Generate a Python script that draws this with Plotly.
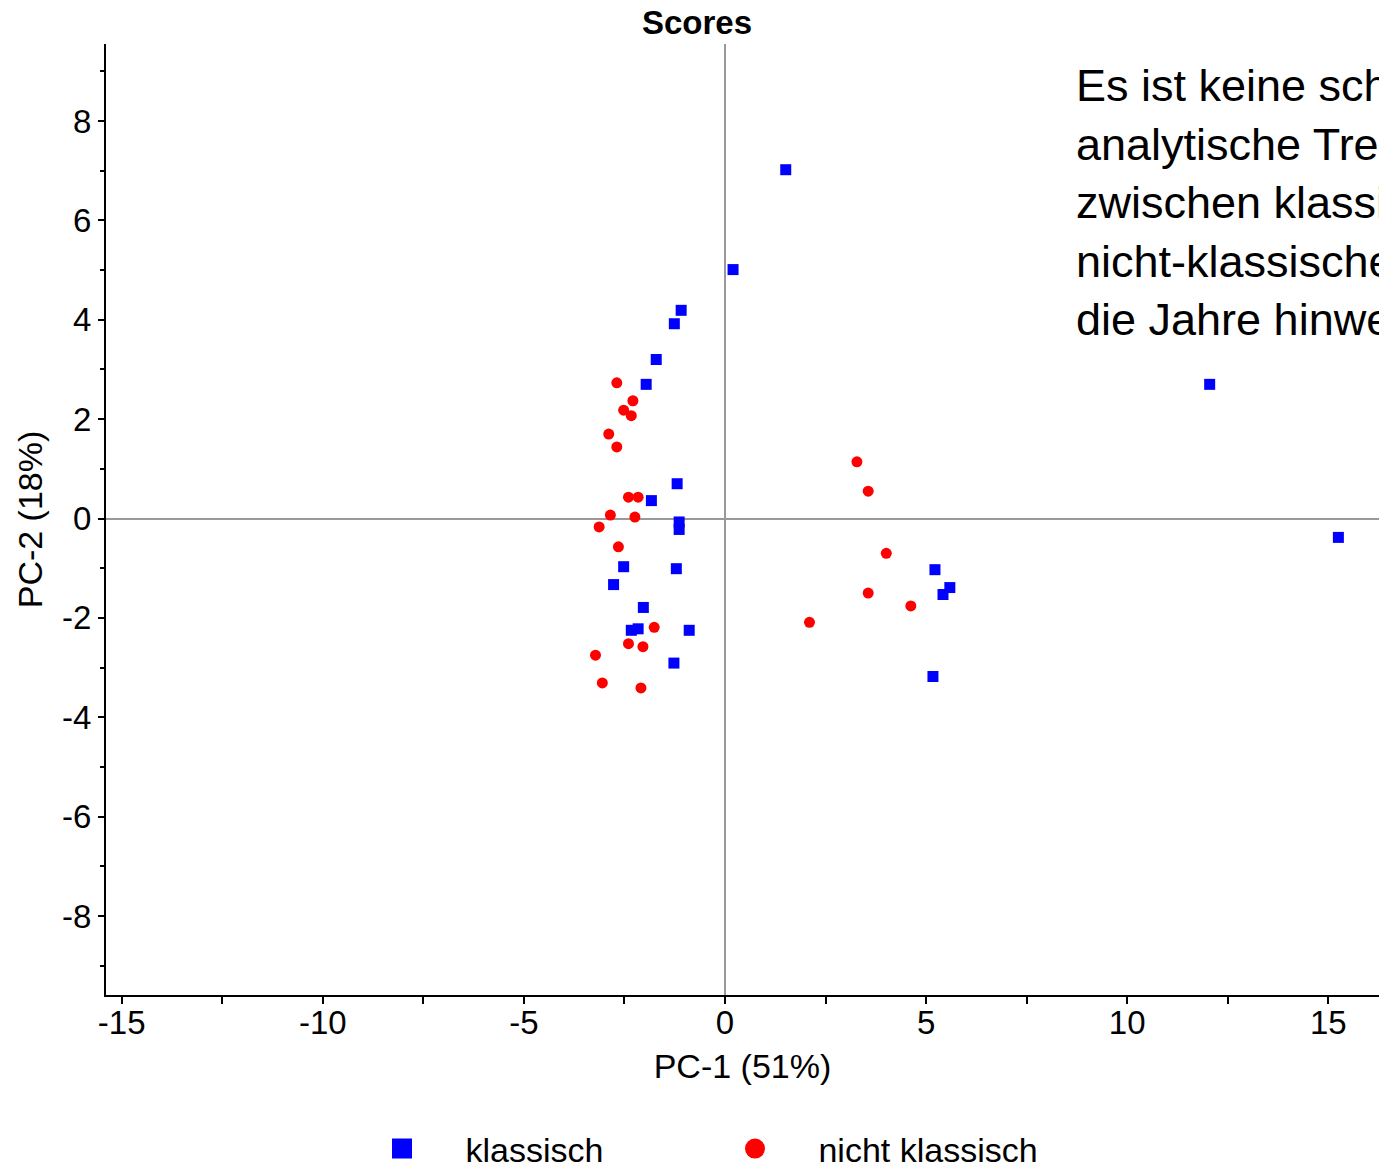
import plotly.graph_objects as go

# Scores (PC-1, PC-2)
klassisch_x = [1.51, 0.20, -1.09, -1.26, -1.71, -1.96, 12.05, -1.19, -1.83, -1.14, -1.14,
               15.25, -2.52, -1.21, -2.77, -2.03, -2.33, -2.16, -0.89, -1.27,
               5.22, 5.59, 5.42, 5.17]
klassisch_y = [7.02, 5.01, 4.19, 3.92, 3.20, 2.70, 2.70, 0.70, 0.36, -0.07, -0.22,
               -0.38, -0.97, -1.01, -1.33, -1.79, -2.25, -2.22, -2.25, -2.91,
               -1.03, -1.39, -1.53, -3.18]

nicht_x = [-2.69, -2.29, -2.52, -2.33, -2.89, -2.69,
           -2.40, -2.16, -2.85, -2.24, -3.13, -2.65, -1.76, -2.40, -2.04, -3.22, -3.05, -2.09,
           3.28, 3.56, 4.01, 3.56, 4.62, 2.10]
nicht_y = [2.73, 2.37, 2.18, 2.07, 1.70, 1.44,
           0.43, 0.43, 0.07, 0.03, -0.17, -0.57, -2.19, -2.52, -2.58, -2.75, -3.31, -3.41,
           1.14, 0.55, -0.70, -1.50, -1.76, -2.09]

series_names = ["klassisch", "nicht klassisch"]
x_ticks = [-15, -10, -5, 0, 5, 10, 15]
y_ticks = [-8, -6, -4, -2, 0, 2, 4, 6, 8]

title_text = "Scores"
x_title = "PC-1 (51%)"
y_title = "PC-2 (18%)"
note_text = ("Es ist keine scharfe<br>analytische Trennung<br>zwischen klassischen und<br>"
             "nicht-klassischen Weinen über<br>die Jahre hinweg erkennbar")

FONT = "Liberation Sans, Arial, sans-serif"
pad = "\u00a0" * 4 + "\u2006"

fig = go.Figure()
fig.add_trace(go.Scatter(x=klassisch_x, y=klassisch_y, mode="markers", showlegend=False,
                         marker=dict(symbol="square", size=11, color="#0000FF")))
fig.add_trace(go.Scatter(x=nicht_x, y=nicht_y, mode="markers", showlegend=False,
                         marker=dict(symbol="circle", size=11, color="#FF0000")))
# legend entries
fig.add_trace(go.Scatter(x=[None], y=[None], mode="markers", name=pad + series_names[0],
                         marker=dict(symbol="square", size=24, color="#0000FF",
                                     line=dict(width=4, color="#0000FF"))))
fig.add_trace(go.Scatter(x=[None], y=[None], mode="markers", name=pad + series_names[1],
                         marker=dict(symbol="circle", size=24, color="#FF0000",
                                     line=dict(width=4, color="#FF0000"))))

fig.update_layout(
    width=1379, height=1166,
    margin=dict(l=106, r=0, t=44, b=171, autoexpand=False),
    paper_bgcolor="white", plot_bgcolor="white",
    font=dict(family=FONT, size=33, color="black"),
    title=dict(text="<b>" + title_text + "</b>", x=697 / 1379, xanchor="center",
               y=1 - 22 / 1166, yanchor="middle", yref="container",
               font=dict(family=FONT, size=33, color="black")),
    showlegend=True,
    legend=dict(orientation="h", x=(382 - 106) / 1273, xanchor="left",
                y=(995 - 1149) / 951, yanchor="middle",
                entrywidth=308, entrywidthmode="pixels",
                font=dict(family=FONT, size=34, color="black"),
                itemsizing="trace"),
    xaxis=dict(range=[-15.39, 16.26], tickvals=x_ticks, ticktext=[str(v) for v in x_ticks],
               showgrid=False, zeroline=True, zerolinecolor="#999999", zerolinewidth=2,
               showline=True, linecolor="black", linewidth=2, mirror=False,
               ticks="outside", ticklen=7, tickwidth=2, tickcolor="black",
               minor=dict(dtick=2.5, tick0=0, ticks="outside", ticklen=7, tickwidth=2, tickcolor="black"),
               tickfont=dict(family=FONT, size=33), ticklabelstandoff=-10,
               title=dict(text=x_title, standoff=15, font=dict(family=FONT, size=34))),
    yaxis=dict(range=[-9.59, 9.55], tickvals=y_ticks, ticktext=[str(v) for v in y_ticks],
               showgrid=False, zeroline=True, zerolinecolor="#999999", zerolinewidth=2,
               showline=True, linecolor="black", linewidth=2, mirror=False,
               ticks="outside", ticklen=6, tickwidth=2, tickcolor="black",
               minor=dict(dtick=1, tick0=0, ticks="outside", ticklen=4, tickwidth=2, tickcolor="black"),
               tickfont=dict(family=FONT, size=33),
               title=dict(text=y_title, standoff=9, font=dict(family=FONT, size=34))),
    annotations=[dict(text=note_text, xref="paper", yref="paper",
                      x=(1074 - 106) / 1273, xanchor="left",
                      y=(995 - 58) / 951, yanchor="top", align="left", showarrow=False,
                      font=dict(family=FONT, size=45, color="black"))],
)

fig.write_html("out.html")
